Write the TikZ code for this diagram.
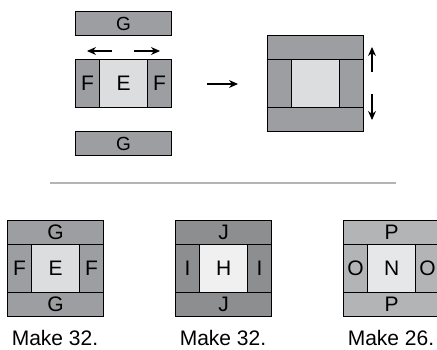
\documentclass[tikz,border=0pt]{standalone}
\usepackage{fontspec}
\setmainfont{Liberation Sans}
\usetikzlibrary{arrows.meta}
\definecolor{frameA}{HTML}{9D9EA1}
\definecolor{coreA}{HTML}{DCDDDF}
\definecolor{frameB}{HTML}{8D8E90}
\definecolor{coreB}{HTML}{F0F0F0}
\definecolor{frameC}{HTML}{B2B4B6}
\definecolor{coreC}{HTML}{E6E7E8}
\definecolor{rule}{HTML}{B4B4B4}
\tikzset{
  piece/.style   = {draw=black, line width=1.2pt, rectangle, inner sep=0pt,
                    anchor=north west, font=\fontsize{21}{21}\selectfont},
  band/.style    = {piece, minimum width=96pt, minimum height=24pt},
  side/.style    = {piece, minimum width=24pt, minimum height=48pt},
  core/.style    = {piece, minimum width=48pt, minimum height=48pt},
  move/.style    = {-{Stealth[length=9pt,width=8pt]}, line width=1.2pt},
  caption/.style = {font=\fontsize{21}{21}\selectfont}
}

\begin{document}
\begin{tikzpicture}[x=1pt,y=-1pt]
  \path[use as bounding box, clip] (0,0) rectangle (437,350);
  % parts before assembly
  \node[band, fill=frameA, font=\fontsize{19}{19}\selectfont] (gtop) at (75,11) {G};
  \node[side, fill=frameA] (fleft) at (75,59) {F};
  \node[core, fill=coreA] (ecore) at (99,59) {E};
  \node[side, fill=frameA] (fright) at (147,59) {F};
  \node[band, fill=frameA, font=\fontsize{19}{19}\selectfont] (gbot) at (75,131) {G};
  \coordinate (pushL0) at (112,51);
  \coordinate (pushL1) at (87,51);
  \coordinate (pushR0) at (134,51);
  \coordinate (pushR1) at (160,51);
  \draw[move] (pushL0) -- (pushL1);
  \draw[move] (pushR0) -- (pushR1);
  % step arrow
  \coordinate (go0) at (207,84);
  \coordinate (go1) at (238,84);
  \draw[move] (go0) -- (go1);
  % assembled block
  \node[band, fill=frameA] (atop) at (267,35) {};
  \node[side, fill=frameA] (aleft) at (267,59) {};
  \node[core, fill=coreA] (acore) at (291,59) {};
  \node[side, fill=frameA] (aright) at (339,59) {};
  \node[band, fill=frameA] (abot) at (267,107) {};
  \coordinate (upA) at (372,72);
  \coordinate (upB) at (372,47);
  \coordinate (dnA) at (372,94);
  \coordinate (dnB) at (372,120);
  \draw[move] (upA) -- (upB);
  \draw[move] (dnA) -- (dnB);
  % separator
  \coordinate (sepL) at (50,183);
  \coordinate (sepR) at (396,183);
  \draw[rule, line width=1.5pt] (sepL) -- (sepR);
  % finished blocks
  \foreach \x/\bandtxt/\sidetxt/\coretxt/\dk/\lt/\num [count=\k] in
      {7/G/F/E/frameA/coreA/32, 175/J/I/H/frameB/coreB/32, 343/P/O/N/frameC/coreC/26}{
    \node[band, fill=\dk] (b\k top) at (\x,220) {\bandtxt};
    \node[side, fill=\dk] (b\k left) at (\x,244) {\sidetxt};
    \node[core, fill=\lt] (b\k core) at (\x+24,244) {\coretxt};
    \node[side, fill=\dk] (b\k right) at (\x+72,244) {\sidetxt};
    \node[band, fill=\dk] (b\k bot) at (\x,292) {\bandtxt};
    \node[caption] (b\k cap) at (\x+48,338) {Make \num.};
  }
\end{tikzpicture}
\end{document}
